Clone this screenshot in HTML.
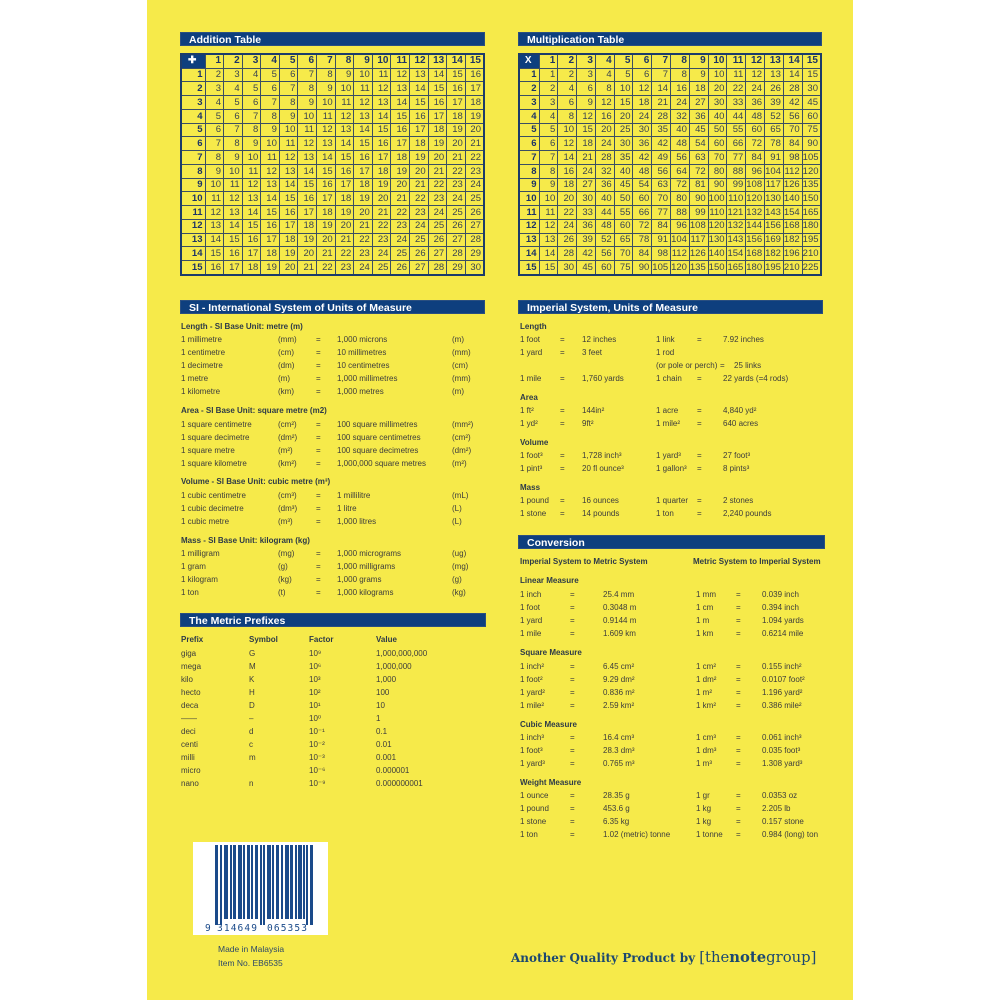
<!DOCTYPE html>
<html><head><meta charset="utf-8"><style>
body{margin:0;width:1000px;height:1000px;background:#fff;position:relative;overflow:hidden;font-family:"Liberation Sans",sans-serif}
.pg{position:absolute;left:147px;top:0;width:706px;height:1000px;background:#f6ea4a}
.bar{position:absolute;height:14px;background:#0e3f7e;color:#fff;font:bold 10.5px/14px "Liberation Sans",sans-serif;padding-left:8px;box-sizing:border-box;border:1px solid #2a4f80}
table{position:absolute;border-collapse:collapse;table-layout:fixed;border:2px solid #1c3c6a}
td,th{border:1px solid #3b4f63;font:9.5px/1 "Liberation Sans",sans-serif;text-align:right;padding:0 2px 0 0;color:#3a4450;height:12.3px;overflow:hidden}
th{font-weight:bold;color:#1c3466}
tr:first-child th{font-size:10px}
th.c{background:#0e3f7e;color:#fff;text-align:center}
.t{position:absolute;font:8px/10px "Liberation Sans",sans-serif;color:#3c3c3c;white-space:nowrap}
.h{font-weight:bold;color:#2d3a48}
</style></head><body>
<div class="pg"></div>

<div class="bar" style="left:180px;top:32px;width:305px">Addition Table</div>
<div class="bar" style="left:518px;top:32px;width:304px">Multiplication Table</div>
<div class="bar" style="left:180px;top:300px;width:305px">SI - International System of Units of Measure</div>
<div class="bar" style="left:518px;top:300px;width:305px">Imperial System, Units of Measure</div>
<div class="bar" style="left:180px;top:613px;width:306px">The Metric Prefixes</div>
<div class="bar" style="left:518px;top:535px;width:307px">Conversion</div>

<table style="left:180px;top:53px;width:305px;height:223px">
<colgroup><col style="width:24px"><col span="15"></colgroup>
<tr><th class="c">✚</th><th>1</th><th>2</th><th>3</th><th>4</th><th>5</th><th>6</th><th>7</th><th>8</th><th>9</th><th>10</th><th>11</th><th>12</th><th>13</th><th>14</th><th>15</th></tr>
<tr><th>1</th><td>2</td><td>3</td><td>4</td><td>5</td><td>6</td><td>7</td><td>8</td><td>9</td><td>10</td><td>11</td><td>12</td><td>13</td><td>14</td><td>15</td><td>16</td></tr>
<tr><th>2</th><td>3</td><td>4</td><td>5</td><td>6</td><td>7</td><td>8</td><td>9</td><td>10</td><td>11</td><td>12</td><td>13</td><td>14</td><td>15</td><td>16</td><td>17</td></tr>
<tr><th>3</th><td>4</td><td>5</td><td>6</td><td>7</td><td>8</td><td>9</td><td>10</td><td>11</td><td>12</td><td>13</td><td>14</td><td>15</td><td>16</td><td>17</td><td>18</td></tr>
<tr><th>4</th><td>5</td><td>6</td><td>7</td><td>8</td><td>9</td><td>10</td><td>11</td><td>12</td><td>13</td><td>14</td><td>15</td><td>16</td><td>17</td><td>18</td><td>19</td></tr>
<tr><th>5</th><td>6</td><td>7</td><td>8</td><td>9</td><td>10</td><td>11</td><td>12</td><td>13</td><td>14</td><td>15</td><td>16</td><td>17</td><td>18</td><td>19</td><td>20</td></tr>
<tr><th>6</th><td>7</td><td>8</td><td>9</td><td>10</td><td>11</td><td>12</td><td>13</td><td>14</td><td>15</td><td>16</td><td>17</td><td>18</td><td>19</td><td>20</td><td>21</td></tr>
<tr><th>7</th><td>8</td><td>9</td><td>10</td><td>11</td><td>12</td><td>13</td><td>14</td><td>15</td><td>16</td><td>17</td><td>18</td><td>19</td><td>20</td><td>21</td><td>22</td></tr>
<tr><th>8</th><td>9</td><td>10</td><td>11</td><td>12</td><td>13</td><td>14</td><td>15</td><td>16</td><td>17</td><td>18</td><td>19</td><td>20</td><td>21</td><td>22</td><td>23</td></tr>
<tr><th>9</th><td>10</td><td>11</td><td>12</td><td>13</td><td>14</td><td>15</td><td>16</td><td>17</td><td>18</td><td>19</td><td>20</td><td>21</td><td>22</td><td>23</td><td>24</td></tr>
<tr><th>10</th><td>11</td><td>12</td><td>13</td><td>14</td><td>15</td><td>16</td><td>17</td><td>18</td><td>19</td><td>20</td><td>21</td><td>22</td><td>23</td><td>24</td><td>25</td></tr>
<tr><th>11</th><td>12</td><td>13</td><td>14</td><td>15</td><td>16</td><td>17</td><td>18</td><td>19</td><td>20</td><td>21</td><td>22</td><td>23</td><td>24</td><td>25</td><td>26</td></tr>
<tr><th>12</th><td>13</td><td>14</td><td>15</td><td>16</td><td>17</td><td>18</td><td>19</td><td>20</td><td>21</td><td>22</td><td>23</td><td>24</td><td>25</td><td>26</td><td>27</td></tr>
<tr><th>13</th><td>14</td><td>15</td><td>16</td><td>17</td><td>18</td><td>19</td><td>20</td><td>21</td><td>22</td><td>23</td><td>24</td><td>25</td><td>26</td><td>27</td><td>28</td></tr>
<tr><th>14</th><td>15</td><td>16</td><td>17</td><td>18</td><td>19</td><td>20</td><td>21</td><td>22</td><td>23</td><td>24</td><td>25</td><td>26</td><td>27</td><td>28</td><td>29</td></tr>
<tr><th>15</th><td>16</td><td>17</td><td>18</td><td>19</td><td>20</td><td>21</td><td>22</td><td>23</td><td>24</td><td>25</td><td>26</td><td>27</td><td>28</td><td>29</td><td>30</td></tr>
</table>

<table style="left:518px;top:53px;width:304px;height:223px">
<colgroup><col style="width:20px"><col span="15"></colgroup>
<tr><th class="c">X</th><th>1</th><th>2</th><th>3</th><th>4</th><th>5</th><th>6</th><th>7</th><th>8</th><th>9</th><th>10</th><th>11</th><th>12</th><th>13</th><th>14</th><th>15</th></tr>
<tr><th>1</th><td>1</td><td>2</td><td>3</td><td>4</td><td>5</td><td>6</td><td>7</td><td>8</td><td>9</td><td>10</td><td>11</td><td>12</td><td>13</td><td>14</td><td>15</td></tr>
<tr><th>2</th><td>2</td><td>4</td><td>6</td><td>8</td><td>10</td><td>12</td><td>14</td><td>16</td><td>18</td><td>20</td><td>22</td><td>24</td><td>26</td><td>28</td><td>30</td></tr>
<tr><th>3</th><td>3</td><td>6</td><td>9</td><td>12</td><td>15</td><td>18</td><td>21</td><td>24</td><td>27</td><td>30</td><td>33</td><td>36</td><td>39</td><td>42</td><td>45</td></tr>
<tr><th>4</th><td>4</td><td>8</td><td>12</td><td>16</td><td>20</td><td>24</td><td>28</td><td>32</td><td>36</td><td>40</td><td>44</td><td>48</td><td>52</td><td>56</td><td>60</td></tr>
<tr><th>5</th><td>5</td><td>10</td><td>15</td><td>20</td><td>25</td><td>30</td><td>35</td><td>40</td><td>45</td><td>50</td><td>55</td><td>60</td><td>65</td><td>70</td><td>75</td></tr>
<tr><th>6</th><td>6</td><td>12</td><td>18</td><td>24</td><td>30</td><td>36</td><td>42</td><td>48</td><td>54</td><td>60</td><td>66</td><td>72</td><td>78</td><td>84</td><td>90</td></tr>
<tr><th>7</th><td>7</td><td>14</td><td>21</td><td>28</td><td>35</td><td>42</td><td>49</td><td>56</td><td>63</td><td>70</td><td>77</td><td>84</td><td>91</td><td>98</td><td>105</td></tr>
<tr><th>8</th><td>8</td><td>16</td><td>24</td><td>32</td><td>40</td><td>48</td><td>56</td><td>64</td><td>72</td><td>80</td><td>88</td><td>96</td><td>104</td><td>112</td><td>120</td></tr>
<tr><th>9</th><td>9</td><td>18</td><td>27</td><td>36</td><td>45</td><td>54</td><td>63</td><td>72</td><td>81</td><td>90</td><td>99</td><td>108</td><td>117</td><td>126</td><td>135</td></tr>
<tr><th>10</th><td>10</td><td>20</td><td>30</td><td>40</td><td>50</td><td>60</td><td>70</td><td>80</td><td>90</td><td>100</td><td>110</td><td>120</td><td>130</td><td>140</td><td>150</td></tr>
<tr><th>11</th><td>11</td><td>22</td><td>33</td><td>44</td><td>55</td><td>66</td><td>77</td><td>88</td><td>99</td><td>110</td><td>121</td><td>132</td><td>143</td><td>154</td><td>165</td></tr>
<tr><th>12</th><td>12</td><td>24</td><td>36</td><td>48</td><td>60</td><td>72</td><td>84</td><td>96</td><td>108</td><td>120</td><td>132</td><td>144</td><td>156</td><td>168</td><td>180</td></tr>
<tr><th>13</th><td>13</td><td>26</td><td>39</td><td>52</td><td>65</td><td>78</td><td>91</td><td>104</td><td>117</td><td>130</td><td>143</td><td>156</td><td>169</td><td>182</td><td>195</td></tr>
<tr><th>14</th><td>14</td><td>28</td><td>42</td><td>56</td><td>70</td><td>84</td><td>98</td><td>112</td><td>126</td><td>140</td><td>154</td><td>168</td><td>182</td><td>196</td><td>210</td></tr>
<tr><th>15</th><td>15</td><td>30</td><td>45</td><td>60</td><td>75</td><td>90</td><td>105</td><td>120</td><td>135</td><td>150</td><td>165</td><td>180</td><td>195</td><td>210</td><td>225</td></tr>
</table>

<!-- SI -->
<div class="t h" style="left:181px;top:322px">Length - SI Base Unit: metre (m)</div>
<div class="t" style="left:181px;top:335px">1 millimetre</div><div class="t" style="left:278px;top:335px">(mm)</div><div class="t" style="left:316px;top:335px">=</div><div class="t" style="left:337px;top:335px">1,000 microns</div><div class="t" style="left:452px;top:335px">(m)</div>
<div class="t" style="left:181px;top:348px">1 centimetre</div><div class="t" style="left:278px;top:348px">(cm)</div><div class="t" style="left:316px;top:348px">=</div><div class="t" style="left:337px;top:348px">10 millimetres</div><div class="t" style="left:452px;top:348px">(mm)</div>
<div class="t" style="left:181px;top:361px">1 decimetre</div><div class="t" style="left:278px;top:361px">(dm)</div><div class="t" style="left:316px;top:361px">=</div><div class="t" style="left:337px;top:361px">10 centimetres</div><div class="t" style="left:452px;top:361px">(cm)</div>
<div class="t" style="left:181px;top:374px">1 metre</div><div class="t" style="left:278px;top:374px">(m)</div><div class="t" style="left:316px;top:374px">=</div><div class="t" style="left:337px;top:374px">1,000 millimetres</div><div class="t" style="left:452px;top:374px">(mm)</div>
<div class="t" style="left:181px;top:387px">1 kilometre</div><div class="t" style="left:278px;top:387px">(km)</div><div class="t" style="left:316px;top:387px">=</div><div class="t" style="left:337px;top:387px">1,000 metres</div><div class="t" style="left:452px;top:387px">(m)</div>

<div class="t h" style="left:181px;top:406px">Area - SI Base Unit: square metre (m2)</div>
<div class="t" style="left:181px;top:420px">1 square centimetre</div><div class="t" style="left:278px;top:420px">(cm²)</div><div class="t" style="left:316px;top:420px">=</div><div class="t" style="left:337px;top:420px">100 square millimetres</div><div class="t" style="left:452px;top:420px">(mm²)</div>
<div class="t" style="left:181px;top:433px">1 square decimetre</div><div class="t" style="left:278px;top:433px">(dm²)</div><div class="t" style="left:316px;top:433px">=</div><div class="t" style="left:337px;top:433px">100 square centimetres</div><div class="t" style="left:452px;top:433px">(cm²)</div>
<div class="t" style="left:181px;top:446px">1 square metre</div><div class="t" style="left:278px;top:446px">(m²)</div><div class="t" style="left:316px;top:446px">=</div><div class="t" style="left:337px;top:446px">100 square decimetres</div><div class="t" style="left:452px;top:446px">(dm²)</div>
<div class="t" style="left:181px;top:459px">1 square kilometre</div><div class="t" style="left:278px;top:459px">(km²)</div><div class="t" style="left:316px;top:459px">=</div><div class="t" style="left:337px;top:459px">1,000,000 square metres</div><div class="t" style="left:452px;top:459px">(m²)</div>

<div class="t h" style="left:181px;top:477px">Volume - SI Base Unit: cubic metre (m³)</div>
<div class="t" style="left:181px;top:491px">1 cubic centimetre</div><div class="t" style="left:278px;top:491px">(cm³)</div><div class="t" style="left:316px;top:491px">=</div><div class="t" style="left:337px;top:491px">1 millilitre</div><div class="t" style="left:452px;top:491px">(mL)</div>
<div class="t" style="left:181px;top:504px">1 cubic decimetre</div><div class="t" style="left:278px;top:504px">(dm³)</div><div class="t" style="left:316px;top:504px">=</div><div class="t" style="left:337px;top:504px">1 litre</div><div class="t" style="left:452px;top:504px">(L)</div>
<div class="t" style="left:181px;top:517px">1 cubic metre</div><div class="t" style="left:278px;top:517px">(m³)</div><div class="t" style="left:316px;top:517px">=</div><div class="t" style="left:337px;top:517px">1,000 litres</div><div class="t" style="left:452px;top:517px">(L)</div>

<div class="t h" style="left:181px;top:536px">Mass - SI Base Unit: kilogram (kg)</div>
<div class="t" style="left:181px;top:549px">1 milligram</div><div class="t" style="left:278px;top:549px">(mg)</div><div class="t" style="left:316px;top:549px">=</div><div class="t" style="left:337px;top:549px">1,000 micrograms</div><div class="t" style="left:452px;top:549px">(ug)</div>
<div class="t" style="left:181px;top:562px">1 gram</div><div class="t" style="left:278px;top:562px">(g)</div><div class="t" style="left:316px;top:562px">=</div><div class="t" style="left:337px;top:562px">1,000 milligrams</div><div class="t" style="left:452px;top:562px">(mg)</div>
<div class="t" style="left:181px;top:575px">1 kilogram</div><div class="t" style="left:278px;top:575px">(kg)</div><div class="t" style="left:316px;top:575px">=</div><div class="t" style="left:337px;top:575px">1,000 grams</div><div class="t" style="left:452px;top:575px">(g)</div>
<div class="t" style="left:181px;top:588px">1 ton</div><div class="t" style="left:278px;top:588px">(t)</div><div class="t" style="left:316px;top:588px">=</div><div class="t" style="left:337px;top:588px">1,000 kilograms</div><div class="t" style="left:452px;top:588px">(kg)</div>

<!-- Prefixes -->
<div class="t h" style="left:181px;top:635px">Prefix</div><div class="t h" style="left:249px;top:635px">Symbol</div><div class="t h" style="left:309px;top:635px">Factor</div><div class="t h" style="left:376px;top:635px">Value</div>
<div class="t" style="left:181px;top:649px">giga</div><div class="t" style="left:249px;top:649px">G</div><div class="t" style="left:309px;top:649px">10⁹</div><div class="t" style="left:376px;top:649px">1,000,000,000</div>
<div class="t" style="left:181px;top:662px">mega</div><div class="t" style="left:249px;top:662px">M</div><div class="t" style="left:309px;top:662px">10⁶</div><div class="t" style="left:376px;top:662px">1,000,000</div>
<div class="t" style="left:181px;top:675px">kilo</div><div class="t" style="left:249px;top:675px">K</div><div class="t" style="left:309px;top:675px">10³</div><div class="t" style="left:376px;top:675px">1,000</div>
<div class="t" style="left:181px;top:688px">hecto</div><div class="t" style="left:249px;top:688px">H</div><div class="t" style="left:309px;top:688px">10²</div><div class="t" style="left:376px;top:688px">100</div>
<div class="t" style="left:181px;top:701px">deca</div><div class="t" style="left:249px;top:701px">D</div><div class="t" style="left:309px;top:701px">10¹</div><div class="t" style="left:376px;top:701px">10</div>
<div class="t" style="left:181px;top:714px">——</div><div class="t" style="left:249px;top:714px">–</div><div class="t" style="left:309px;top:714px">10⁰</div><div class="t" style="left:376px;top:714px">1</div>
<div class="t" style="left:181px;top:727px">deci</div><div class="t" style="left:249px;top:727px">d</div><div class="t" style="left:309px;top:727px">10⁻¹</div><div class="t" style="left:376px;top:727px">0.1</div>
<div class="t" style="left:181px;top:740px">centi</div><div class="t" style="left:249px;top:740px">c</div><div class="t" style="left:309px;top:740px">10⁻²</div><div class="t" style="left:376px;top:740px">0.01</div>
<div class="t" style="left:181px;top:753px">milli</div><div class="t" style="left:249px;top:753px">m</div><div class="t" style="left:309px;top:753px">10⁻³</div><div class="t" style="left:376px;top:753px">0.001</div>
<div class="t" style="left:181px;top:766px">micro</div><div class="t" style="left:309px;top:766px">10⁻⁶</div><div class="t" style="left:376px;top:766px">0.000001</div>
<div class="t" style="left:181px;top:779px">nano</div><div class="t" style="left:249px;top:779px">n</div><div class="t" style="left:309px;top:779px">10⁻⁹</div><div class="t" style="left:376px;top:779px">0.000000001</div>

<!-- Imperial -->
<div class="t h" style="left:520px;top:322px">Length</div>
<div class="t" style="left:520px;top:335px">1 foot</div><div class="t" style="left:560px;top:335px">=</div><div class="t" style="left:582px;top:335px">12 inches</div><div class="t" style="left:656px;top:335px">1 link</div><div class="t" style="left:697px;top:335px">=</div><div class="t" style="left:723px;top:335px">7.92 inches</div>
<div class="t" style="left:520px;top:348px">1 yard</div><div class="t" style="left:560px;top:348px">=</div><div class="t" style="left:582px;top:348px">3 feet</div><div class="t" style="left:656px;top:348px">1 rod</div>
<div class="t" style="left:656px;top:361px">(or pole or perch)</div><div class="t" style="left:720px;top:361px">=</div><div class="t" style="left:734px;top:361px">25 links</div>
<div class="t" style="left:520px;top:374px">1 mile</div><div class="t" style="left:560px;top:374px">=</div><div class="t" style="left:582px;top:374px">1,760 yards</div><div class="t" style="left:656px;top:374px">1 chain</div><div class="t" style="left:697px;top:374px">=</div><div class="t" style="left:723px;top:374px">22 yards (=4 rods)</div>
<div class="t h" style="left:520px;top:393px">Area</div>
<div class="t" style="left:520px;top:406px">1 ft²</div><div class="t" style="left:560px;top:406px">=</div><div class="t" style="left:582px;top:406px">144in²</div><div class="t" style="left:656px;top:406px">1 acre</div><div class="t" style="left:697px;top:406px">=</div><div class="t" style="left:723px;top:406px">4,840 yd²</div>
<div class="t" style="left:520px;top:419px">1 yd²</div><div class="t" style="left:560px;top:419px">=</div><div class="t" style="left:582px;top:419px">9ft²</div><div class="t" style="left:656px;top:419px">1 mile²</div><div class="t" style="left:697px;top:419px">=</div><div class="t" style="left:723px;top:419px">640 acres</div>
<div class="t h" style="left:520px;top:438px">Volume</div>
<div class="t" style="left:520px;top:451px">1 foot³</div><div class="t" style="left:560px;top:451px">=</div><div class="t" style="left:582px;top:451px">1,728 inch³</div><div class="t" style="left:656px;top:451px">1 yard³</div><div class="t" style="left:697px;top:451px">=</div><div class="t" style="left:723px;top:451px">27 foot³</div>
<div class="t" style="left:520px;top:464px">1 pint³</div><div class="t" style="left:560px;top:464px">=</div><div class="t" style="left:582px;top:464px">20 fl ounce³</div><div class="t" style="left:656px;top:464px">1 gallon³</div><div class="t" style="left:697px;top:464px">=</div><div class="t" style="left:723px;top:464px">8 pints³</div>
<div class="t h" style="left:520px;top:483px">Mass</div>
<div class="t" style="left:520px;top:496px">1 pound</div><div class="t" style="left:560px;top:496px">=</div><div class="t" style="left:582px;top:496px">16 ounces</div><div class="t" style="left:656px;top:496px">1 quarter</div><div class="t" style="left:697px;top:496px">=</div><div class="t" style="left:723px;top:496px">2 stones</div>
<div class="t" style="left:520px;top:509px">1 stone</div><div class="t" style="left:560px;top:509px">=</div><div class="t" style="left:582px;top:509px">14 pounds</div><div class="t" style="left:656px;top:509px">1 ton</div><div class="t" style="left:697px;top:509px">=</div><div class="t" style="left:723px;top:509px">2,240 pounds</div>

<!-- Conversion -->
<div class="t h" style="left:520px;top:557px">Imperial System to Metric System</div><div class="t h" style="left:693px;top:557px">Metric System to Imperial System</div>
<div class="t h" style="left:520px;top:576px">Linear Measure</div>
<div class="t" style="left:520px;top:590px">1 inch</div><div class="t" style="left:570px;top:590px">=</div><div class="t" style="left:603px;top:590px">25.4 mm</div><div class="t" style="left:696px;top:590px">1 mm</div><div class="t" style="left:736px;top:590px">=</div><div class="t" style="left:762px;top:590px">0.039 inch</div>
<div class="t" style="left:520px;top:603px">1 foot</div><div class="t" style="left:570px;top:603px">=</div><div class="t" style="left:603px;top:603px">0.3048 m</div><div class="t" style="left:696px;top:603px">1 cm</div><div class="t" style="left:736px;top:603px">=</div><div class="t" style="left:762px;top:603px">0.394 inch</div>
<div class="t" style="left:520px;top:616px">1 yard</div><div class="t" style="left:570px;top:616px">=</div><div class="t" style="left:603px;top:616px">0.9144 m</div><div class="t" style="left:696px;top:616px">1 m</div><div class="t" style="left:736px;top:616px">=</div><div class="t" style="left:762px;top:616px">1.094 yards</div>
<div class="t" style="left:520px;top:629px">1 mile</div><div class="t" style="left:570px;top:629px">=</div><div class="t" style="left:603px;top:629px">1.609 km</div><div class="t" style="left:696px;top:629px">1 km</div><div class="t" style="left:736px;top:629px">=</div><div class="t" style="left:762px;top:629px">0.6214 mile</div>
<div class="t h" style="left:520px;top:648px">Square Measure</div>
<div class="t" style="left:520px;top:662px">1 inch²</div><div class="t" style="left:570px;top:662px">=</div><div class="t" style="left:603px;top:662px">6.45 cm²</div><div class="t" style="left:696px;top:662px">1 cm²</div><div class="t" style="left:736px;top:662px">=</div><div class="t" style="left:762px;top:662px">0.155 inch²</div>
<div class="t" style="left:520px;top:675px">1 foot²</div><div class="t" style="left:570px;top:675px">=</div><div class="t" style="left:603px;top:675px">9.29 dm²</div><div class="t" style="left:696px;top:675px">1 dm²</div><div class="t" style="left:736px;top:675px">=</div><div class="t" style="left:762px;top:675px">0.0107 foot²</div>
<div class="t" style="left:520px;top:688px">1 yard²</div><div class="t" style="left:570px;top:688px">=</div><div class="t" style="left:603px;top:688px">0.836 m²</div><div class="t" style="left:696px;top:688px">1 m²</div><div class="t" style="left:736px;top:688px">=</div><div class="t" style="left:762px;top:688px">1.196 yard²</div>
<div class="t" style="left:520px;top:701px">1 mile²</div><div class="t" style="left:570px;top:701px">=</div><div class="t" style="left:603px;top:701px">2.59 km²</div><div class="t" style="left:696px;top:701px">1 km²</div><div class="t" style="left:736px;top:701px">=</div><div class="t" style="left:762px;top:701px">0.386 mile²</div>
<div class="t h" style="left:520px;top:720px">Cubic Measure</div>
<div class="t" style="left:520px;top:733px">1 inch³</div><div class="t" style="left:570px;top:733px">=</div><div class="t" style="left:603px;top:733px">16.4 cm³</div><div class="t" style="left:696px;top:733px">1 cm³</div><div class="t" style="left:736px;top:733px">=</div><div class="t" style="left:762px;top:733px">0.061 inch³</div>
<div class="t" style="left:520px;top:746px">1 foot³</div><div class="t" style="left:570px;top:746px">=</div><div class="t" style="left:603px;top:746px">28.3 dm³</div><div class="t" style="left:696px;top:746px">1 dm³</div><div class="t" style="left:736px;top:746px">=</div><div class="t" style="left:762px;top:746px">0.035 foot³</div>
<div class="t" style="left:520px;top:759px">1 yard³</div><div class="t" style="left:570px;top:759px">=</div><div class="t" style="left:603px;top:759px">0.765 m³</div><div class="t" style="left:696px;top:759px">1 m³</div><div class="t" style="left:736px;top:759px">=</div><div class="t" style="left:762px;top:759px">1.308 yard³</div>
<div class="t h" style="left:520px;top:778px">Weight Measure</div>
<div class="t" style="left:520px;top:791px">1 ounce</div><div class="t" style="left:570px;top:791px">=</div><div class="t" style="left:603px;top:791px">28.35 g</div><div class="t" style="left:696px;top:791px">1 gr</div><div class="t" style="left:736px;top:791px">=</div><div class="t" style="left:762px;top:791px">0.0353 oz</div>
<div class="t" style="left:520px;top:804px">1 pound</div><div class="t" style="left:570px;top:804px">=</div><div class="t" style="left:603px;top:804px">453.6 g</div><div class="t" style="left:696px;top:804px">1 kg</div><div class="t" style="left:736px;top:804px">=</div><div class="t" style="left:762px;top:804px">2.205 lb</div>
<div class="t" style="left:520px;top:817px">1 stone</div><div class="t" style="left:570px;top:817px">=</div><div class="t" style="left:603px;top:817px">6.35 kg</div><div class="t" style="left:696px;top:817px">1 kg</div><div class="t" style="left:736px;top:817px">=</div><div class="t" style="left:762px;top:817px">0.157 stone</div>
<div class="t" style="left:520px;top:830px">1 ton</div><div class="t" style="left:570px;top:830px">=</div><div class="t" style="left:603px;top:830px">1.02 (metric) tonne</div><div class="t" style="left:696px;top:830px">1 tonne</div><div class="t" style="left:736px;top:830px">=</div><div class="t" style="left:762px;top:830px">0.984 (long) ton</div>

<!-- Barcode -->
<div style="position:absolute;left:193px;top:842px;width:135px;height:93px;background:#fff"></div>
<svg style="position:absolute;left:193px;top:842px" width="135" height="93">
<g fill="#1a4a8a">
<rect x="22" y="3" width="3" height="80"/><rect x="27" y="3" width="2" height="80"/>
<rect x="31" y="3" width="4" height="74"/><rect x="37" y="3" width="2" height="74"/><rect x="40" y="3" width="3" height="74"/><rect x="45" y="3" width="4" height="74"/><rect x="50" y="3" width="2" height="74"/><rect x="54" y="3" width="3" height="74"/><rect x="58" y="3" width="2" height="74"/><rect x="62" y="3" width="3" height="74"/>
<rect x="67" y="3" width="2" height="80"/><rect x="70" y="3" width="2" height="80"/>
<rect x="74" y="3" width="4" height="74"/><rect x="79" y="3" width="2" height="74"/><rect x="83" y="3" width="3" height="74"/><rect x="88" y="3" width="2" height="74"/><rect x="92" y="3" width="4" height="74"/><rect x="97" y="3" width="3" height="74"/><rect x="102" y="3" width="2" height="74"/><rect x="105" y="3" width="4" height="74"/><rect x="110" y="3" width="2" height="74"/>
<rect x="113" y="3" width="2" height="80"/><rect x="117" y="3" width="3" height="80"/>
</g>
<text x="12" y="89" font-family="DejaVu Sans Mono, monospace" font-size="9.5" fill="#1a4a8a">9</text>
<text x="24" y="89" font-family="DejaVu Sans Mono, monospace" font-size="9.5" fill="#1a4a8a" textLength="40">314649</text>
<text x="74" y="89" font-family="DejaVu Sans Mono, monospace" font-size="9.5" fill="#1a4a8a" textLength="40">065353</text>
</svg>
<div class="t" style="left:218px;top:944px;font-size:8.5px;color:#2c4868">Made in Malaysia</div>
<div class="t" style="left:218px;top:958px;font-size:8.5px;color:#2c4868">Item No. EB6535</div>

<div class="t" style="left:511px;top:950px;font:bold 12px/16px 'DejaVu Serif',serif;color:#1c4870">Another Quality Product by <span style="font-weight:normal;font-size:14.8px">[the<b>note</b>group]</span></div>
</body></html>
